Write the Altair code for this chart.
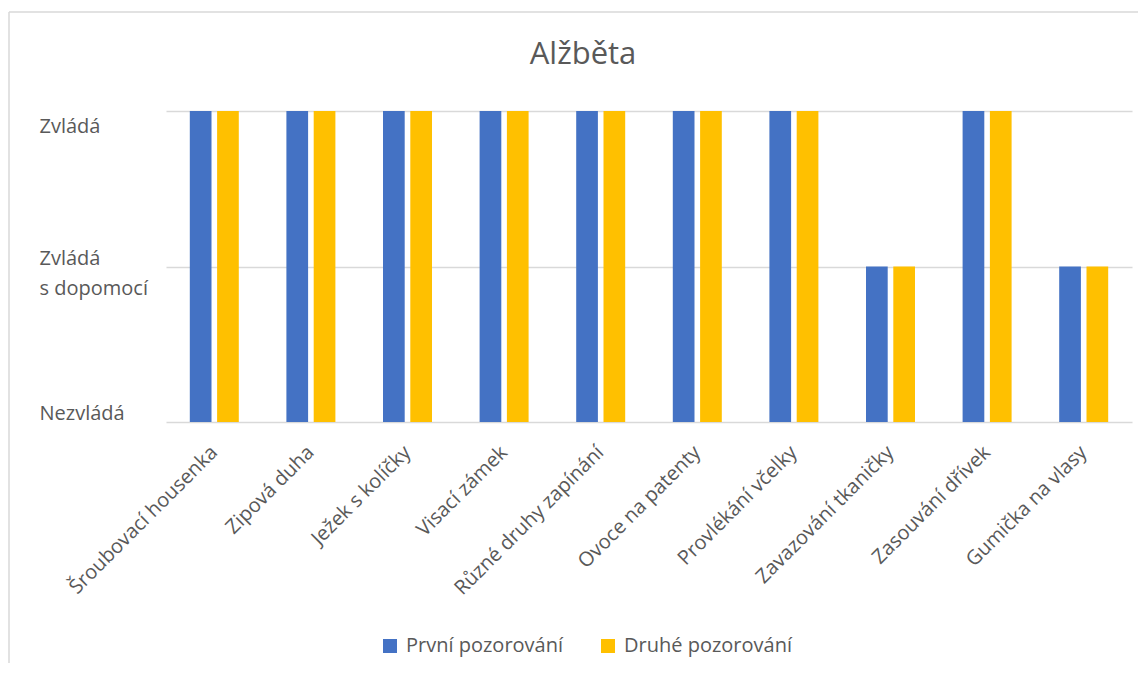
import altair as alt
import pandas as pd

categories = ["Šroubovací housenka", "Zipová duha", "Ježek s kolíčky", "Visací zámek",
              "Různé druhy zapínání", "Ovoce na patenty", "Provlékání včelky",
              "Zavazování tkaničky", "Zasouvání dřívek", "Gumička na vlasy"]
series_names = ["První pozorování", "Druhé pozorování"]
first_obs = [2, 2, 2, 2, 2, 2, 2, 1, 2, 1]
second_obs = [2, 2, 2, 2, 2, 2, 2, 1, 2, 1]
level_values = [0, 1, 2]
level_labels = ["Nezvládá", ["Zvládá", "s dopomocí"], "Zvládá"]
title_text = "Alžběta"
colors = ["#4472C4", "#FFC000"]

rows = []
for c, a, b in zip(categories, first_obs, second_obs):
    rows.append({"kat": c, "serie": series_names[0], "v": a})
    rows.append({"kat": c, "serie": series_names[1], "v": b})
df = pd.DataFrame(rows)

def js(v):
    if isinstance(v, list):
        return "[" + ",".join("'" + s + "'" for s in v) + "]"
    return "'" + v + "'"

label_expr = "datum.value == 2 ? %s : datum.value == 1 ? %s : %s" % (
    js(level_labels[2]), js(level_labels[1]), js(level_labels[0]))

FONT = "Open Sans"
TXT = "#595959"
GRID = "#d9d9d9"

bars = alt.Chart(df).mark_bar().encode(
    x=alt.X("kat:N", sort=categories, title=None,
            scale=alt.Scale(paddingInner=0, paddingOuter=0),
            axis=alt.Axis(labelAngle=-45, labelAlign="right", labelBaseline="middle",
                          labelPadding=27, labelFont=FONT, labelFontSize=20,
                          labelColor=TXT, labelLimit=0, domain=False, ticks=False,
                          grid=False)),
    xOffset=alt.XOffset("serie:N", sort=series_names,
                        scale=alt.Scale(paddingInner=0.205, paddingOuter=0.872)),
    y=alt.Y("v:Q", title=None,
            scale=alt.Scale(domain=[0, 2], nice=False),
            axis=alt.Axis(values=level_values, labelExpr=label_expr,
                          labelAlign="left", labelPadding=127, tickSize=0,
                          ticks=False, domain=False, grid=True, gridColor=GRID,
                          gridWidth=1.5, labelFont=FONT, labelFontSize=20,
                          labelColor=TXT, labelLineHeight=30, labelLimit=0,
                          labelOffset={"condition": [
                              {"test": "datum.value == 2", "value": 15},
                              {"test": "datum.value == 1", "value": -8}],
                              "value": -9})),
    color=alt.Color("serie:N", sort=series_names,
                    scale=alt.Scale(domain=series_names, range=colors),
                    legend=alt.Legend(title=None, orient="none", legendX=214, legendY=525,
                                      direction="horizontal", symbolType="square",
                                      symbolSize=196, symbolStrokeWidth=0,
                                      labelFont=FONT, labelFontSize=20, labelColor=TXT,
                                      labelLimit=0, labelOffset=6, columnPadding=34,
                                      padding=0)),
)

one = pd.DataFrame({"k": [0]})
frame_left = alt.Chart(one).mark_rule(color=GRID, strokeWidth=1.5).encode(
    x=alt.value(-157), y=alt.value(-99), y2=alt.value(560))
frame_top = alt.Chart(one).mark_rule(color=GRID, strokeWidth=1.5).encode(
    x=alt.value(-157), x2=alt.value(990), y=alt.value(-99))
title = alt.Chart(one).mark_text(text=title_text, font=FONT, fontSize=31, color=TXT,
                                 align="center", baseline="middle").encode(
    x=alt.value(417), y=alt.value(-56))

chart = alt.layer(frame_left, frame_top, bars, title).properties(
    width=966, height=311,
    autosize=alt.AutoSizeParams(type="none"),
    padding={"left": 158, "top": 103, "right": 6, "bottom": 241},
).configure(background="white").configure_view(stroke=None)

chart.save("out.html", embed_options={"renderer": "svg", "actions": False})
